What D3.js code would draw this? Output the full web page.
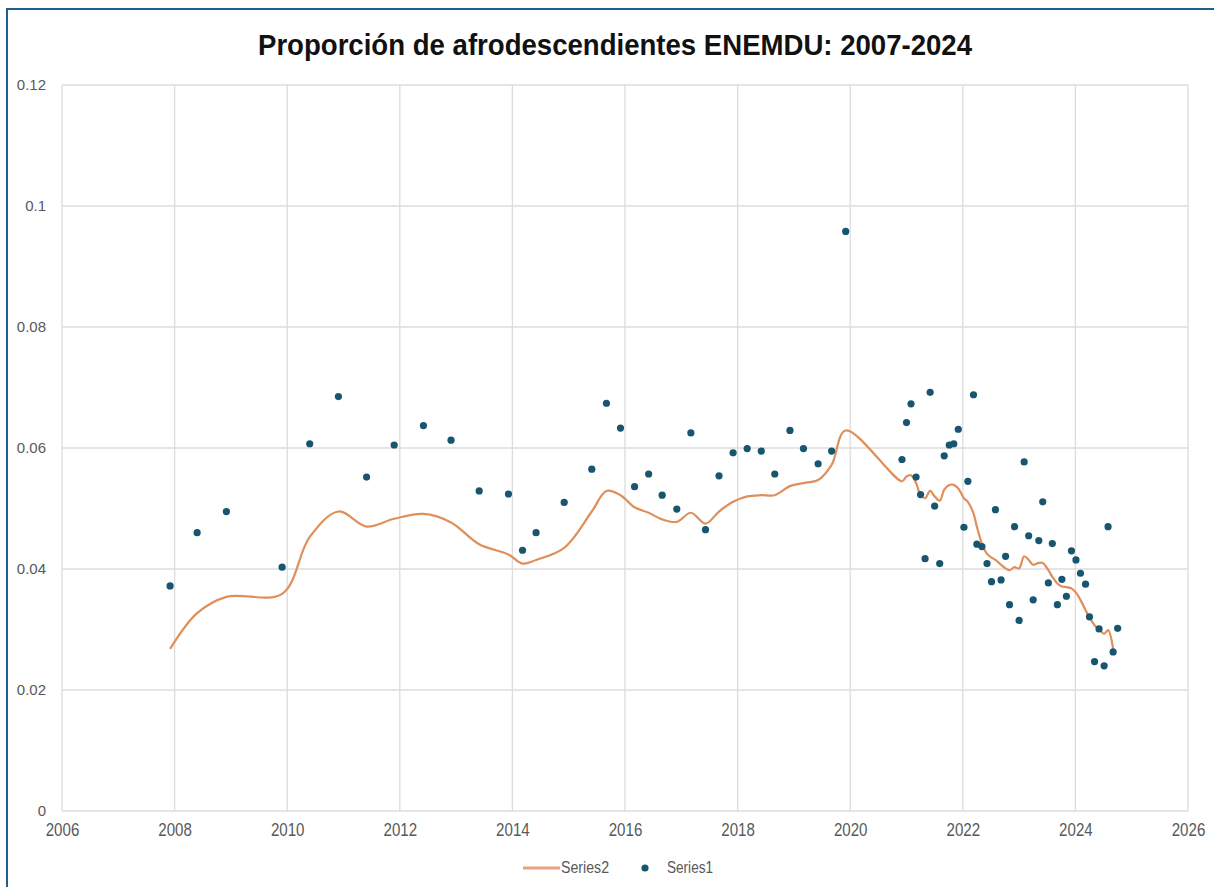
<!DOCTYPE html>
<html>
<head>
<meta charset="utf-8">
<script src="https://cdn.jsdelivr.net/npm/d3@7"></script>
<style>
  body { margin: 0; background: #ffffff; }
  svg { display: block; }
</style>
</head>
<body>
<div id="chart"></div>
<script>
// Datos
var scatterYears = [2007.92, 2008.40, 2008.92, 2009.91, 2010.40, 2010.91, 2011.41, 2011.90, 2012.42, 2012.91,
    2013.41, 2013.93, 2014.18, 2014.42, 2014.92, 2015.41, 2015.67, 2015.92, 2016.17, 2016.42,
    2016.66, 2016.92, 2017.17, 2017.43, 2017.67, 2017.92, 2018.17, 2018.42, 2018.66, 2018.93,
    2019.17, 2019.43, 2019.67, 2019.92, 2020.92, 2021.00, 2021.08, 2021.17, 2021.25, 2021.33,
    2021.42, 2021.50, 2021.59, 2021.67, 2021.76, 2021.84, 2021.92, 2022.02, 2022.09, 2022.19,
    2022.25, 2022.34, 2022.43, 2022.51, 2022.58, 2022.68, 2022.76, 2022.83, 2022.92, 2023.00,
    2023.09, 2023.17, 2023.25, 2023.35, 2023.42, 2023.52, 2023.59, 2023.68, 2023.76, 2023.84,
    2023.93, 2024.01, 2024.09, 2024.18, 2024.25, 2024.34, 2024.42, 2024.51, 2024.58, 2024.67,
    2024.75];

var scatterValues = [0.0372, 0.0460, 0.0495, 0.0403, 0.0607, 0.0685, 0.0552, 0.0605, 0.0637, 0.0613,
    0.0529, 0.0524, 0.0431, 0.0460, 0.0510, 0.0565, 0.0674, 0.0633, 0.0536, 0.0557,
    0.0522, 0.0499, 0.0625, 0.0465, 0.0554, 0.0592, 0.0599, 0.0595, 0.0557, 0.0629,
    0.0599, 0.0574, 0.0595, 0.0958, 0.0581, 0.0642, 0.0673, 0.0552, 0.0523, 0.0417,
    0.0692, 0.0504, 0.0409, 0.0587, 0.0605, 0.0607, 0.0631, 0.0469, 0.0545, 0.0688,
    0.0441, 0.0437, 0.0409, 0.0379, 0.0498, 0.0382, 0.0421, 0.0341, 0.0470, 0.0315,
    0.0577, 0.0455, 0.0349, 0.0447, 0.0511, 0.0377, 0.0442, 0.0341, 0.0383, 0.0355,
    0.0430, 0.0415, 0.0393, 0.0375, 0.0321, 0.0247, 0.0301, 0.0240, 0.0470, 0.0263,
    0.0302];

// Serie suavizada (Series2), mismas fechas que los puntos salvo el ultimo
var trendValues = [0.0268, 0.0327, 0.0354, 0.0359, 0.0453, 0.0495, 0.0470, 0.0483, 0.0491, 0.0477,
    0.0441, 0.0424, 0.0409, 0.0415, 0.0435, 0.0495, 0.0529, 0.0522, 0.0502, 0.0493,
    0.0482, 0.0478, 0.0493, 0.0475, 0.0495, 0.0511, 0.0520, 0.0522, 0.0522, 0.0537,
    0.0542, 0.0547, 0.0572, 0.0629, 0.0545, 0.0553, 0.0555, 0.0542, 0.0522, 0.0517,
    0.0529, 0.0520, 0.0513, 0.0531, 0.0539, 0.0539, 0.0533, 0.0517, 0.0511, 0.0492,
    0.0470, 0.0442, 0.0425, 0.0419, 0.0415, 0.0407, 0.0401, 0.0398, 0.0403, 0.0401,
    0.0421, 0.0415, 0.0407, 0.0410, 0.0410, 0.0398, 0.0387, 0.0376, 0.0371, 0.0370,
    0.0368, 0.0361, 0.0349, 0.0332, 0.0320, 0.0307, 0.0300, 0.0293, 0.0299, 0.0268];
var trendYears = scatterYears.slice(0, trendValues.length);

var xTicks = [2006, 2008, 2010, 2012, 2014, 2016, 2018, 2020, 2022, 2024, 2026];
var yTicks = [0, 0.02, 0.04, 0.06, 0.08, 0.1, 0.12];

var titleText = "Proporción de afrodescendientes ENEMDU: 2007-2024";

function drawChart() {
    var width = 1214, height = 887;
    var margin = { top: 85, right: 26, bottom: 76, left: 62 };
    var innerW = width - margin.left - margin.right;
    var innerH = height - margin.top - margin.bottom;

    var svg = d3.select("#chart")
        .append("svg")
        .attr("width", width)
        .attr("height", height);

    // marco azul
    svg.append("rect")
        .attr("x", 7)
        .attr("y", 9)
        .attr("width", width + 20)
        .attr("height", height + 20)
        .attr("fill", "none")
        .attr("stroke", "#1f5f8b")
        .attr("stroke-width", 2);

    var x = d3.scaleLinear().domain([2006, 2026]).range([0, innerW]);
    var y = d3.scaleLinear().domain([0, 0.12]).range([innerH, 0]);

    var g = svg.append("g")
        .attr("transform", "translate(" + margin.left + "," + margin.top + ")");

    // lineas de cuadricula
    g.append("g").selectAll("line")
        .data(yTicks)
        .enter()
        .append("line")
        .attr("x1", 0).attr("x2", innerW)
        .attr("y1", function (d) { return y(d); })
        .attr("y2", function (d) { return y(d); })
        .attr("stroke", "#dcdcdc")
        .attr("stroke-width", 1.3);

    g.append("g").selectAll("line")
        .data(xTicks)
        .enter()
        .append("line")
        .attr("y1", 0).attr("y2", innerH)
        .attr("x1", function (d) { return x(d); })
        .attr("x2", function (d) { return x(d); })
        .attr("stroke", "#dcdcdc")
        .attr("stroke-width", 1.3);

    var tickFont = "'Liberation Sans Narrow', 'Liberation Sans', Arial, sans-serif";

    var xAxis = g.append("g")
        .attr("transform", "translate(0," + innerH + ")")
        .call(d3.axisBottom(x).tickValues(xTicks).tickSize(0).tickPadding(12).tickFormat(d3.format("d")));
    xAxis.select(".domain").remove();
    xAxis.selectAll("text")
        .style("font-family", tickFont)
        .style("font-size", "18px")
        .attr("transform", "scale(0.84,1)")
        .attr("fill", "#595959");

    var yAxis = g.append("g")
        .call(d3.axisLeft(y).tickValues(yTicks).tickSize(0).tickPadding(16)
            .tickFormat(function (d) { return d === 0 ? "0" : String(+d.toFixed(2)); }));
    yAxis.select(".domain").remove();
    yAxis.selectAll("text")
        .style("font-family", tickFont)
        .style("font-size", "15px")
        .attr("fill", "#595959");

    // linea suavizada
    var line = d3.line()
        .x(function (d) { return x(d[0]); })
        .y(function (d) { return y(d[1]); })
        .curve(d3.curveCatmullRom.alpha(0.5));

    g.append("path")
        .datum(d3.zip(trendYears, trendValues))
        .attr("d", line)
        .attr("fill", "none")
        .attr("stroke", "#df8f5a")
        .attr("stroke-width", 2.2);

    // puntos
    g.append("g").selectAll("circle")
        .data(d3.zip(scatterYears, scatterValues))
        .enter()
        .append("circle")
        .attr("cx", function (d) { return x(d[0]); })
        .attr("cy", function (d) { return y(d[1]); })
        .attr("r", 3.6)
        .attr("fill", "#17566e");

    // titulo
    svg.append("text")
        .attr("x", 615)
        .attr("y", 55)
        .attr("text-anchor", "middle")
        .attr("textLength", 714)
        .attr("lengthAdjust", "spacingAndGlyphs")
        .style("font-family", tickFont)
        .style("font-weight", "bold")
        .style("font-size", "29px")
        .attr("fill", "#111111")
        .text(titleText);

    // leyenda
    var legend = svg.append("g").attr("transform", "translate(0,868)");
    legend.append("line")
        .attr("x1", 523).attr("x2", 560)
        .attr("y1", 0).attr("y2", 0)
        .attr("stroke", "#e8a47c")
        .attr("stroke-width", 3);
    legend.append("text")
        .attr("x", 561).attr("y", 5)
        .attr("textLength", 48)
        .attr("lengthAdjust", "spacingAndGlyphs")
        .style("font-family", tickFont)
        .style("font-size", "16px")
        .attr("fill", "#595959")
        .text("Series2");
    legend.append("circle")
        .attr("cx", 645).attr("cy", 0)
        .attr("r", 3.6)
        .attr("fill", "#17566e");
    legend.append("text")
        .attr("x", 667).attr("y", 5)
        .attr("textLength", 46)
        .attr("lengthAdjust", "spacingAndGlyphs")
        .style("font-family", tickFont)
        .style("font-size", "16px")
        .attr("fill", "#595959")
        .text("Series1");
}

document.addEventListener("DOMContentLoaded", drawChart);
</script>
</body>
</html>
